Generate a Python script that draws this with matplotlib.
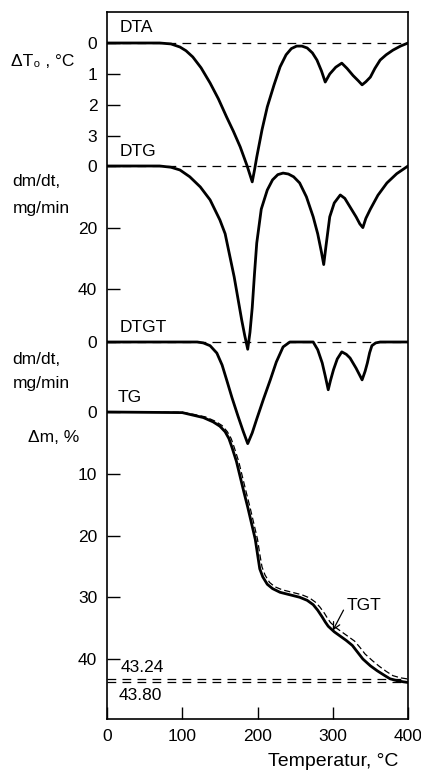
import matplotlib
matplotlib.use('Agg')
import matplotlib.pyplot as plt

plt.rcParams['font.family'] = ['Liberation Sans', 'DejaVu Sans']

# --- data (temperature in degC) ---
dta_t = [0, 70, 85, 97, 105, 114, 125, 137, 148, 159, 168, 177, 186, 193, 196, 199,
         206, 213, 222, 230, 238, 245, 252, 259, 266, 273, 279, 285, 290, 296, 304,
         312, 319, 327, 334, 339, 344, 350, 356, 363, 371, 380, 390, 400]
dta_v = [0, 0, 0.03, 0.13, 0.25, 0.45, 0.8, 1.29, 1.8, 2.39, 2.85, 3.35, 3.95, 4.48, 4.1, 3.68,
         2.8, 2.06, 1.35, 0.77, 0.38, 0.18, 0.1, 0.1, 0.16, 0.32, 0.55, 0.9, 1.26, 1.0, 0.78,
         0.65, 0.82, 1.05, 1.22, 1.35, 1.25, 1.1, 0.82, 0.55, 0.38, 0.23, 0.1, 0]

dtg_t = [0, 70, 85, 97, 110, 124, 137, 150, 157, 163, 169, 174, 179, 183, 187, 190, 193,
         196, 199, 205, 213, 220, 227, 234, 241, 248, 256, 265, 274, 280, 285, 288, 291,
         296, 302, 310, 316, 323, 331, 336, 340, 344, 350, 360, 372, 385, 400]
dtg_v = [0, 0, 0.4, 1.3, 3.5, 6.8, 11, 17.5, 22, 29, 36, 43, 50, 55, 59.5, 54, 46,
         35, 25, 14, 7.8, 4.5, 2.8, 2.3, 2.6, 3.5, 5.5, 10, 16.5, 22, 28, 32, 26,
         16.5, 12, 9.4, 10.5, 13.3, 16.5, 18.8, 20, 17, 14, 9.5, 5.5, 2.5, 0]

dtgt_t = [0, 120, 128, 137, 146, 153, 159, 166, 174, 181, 187, 193, 199, 208, 217, 225,
          234, 243, 274, 280, 286, 290, 294, 297, 301, 306, 312, 318, 323, 331, 339,
          343, 346, 349, 352, 357, 363, 400]
dtgt_v = [0, 0, 0.3, 1.2, 3.6, 7.5, 12.3, 18, 24, 29, 33, 29.5, 25, 18.5, 12.3, 6.5,
          1.6, 0, 0, 2.5, 6.8, 11, 15.5, 12.5, 9, 5.5, 3.2, 4, 5.2, 8.5, 12.3,
          9.5, 6.8, 3.5, 1.2, 0.3, 0, 0]

tg_t = [0, 100, 114, 128, 141, 150, 157, 162, 166, 172, 177, 182, 187, 192, 197, 200,
        203, 207, 213, 220, 230, 243, 256, 266, 274, 280, 286, 290, 294, 302, 310, 318,
        326, 333, 340, 350, 359, 368, 376, 385, 394, 400]
tg_v = [0, 0.1, 0.5, 0.9, 1.6, 2.3, 3.2, 4.3, 5.7, 8, 10.5, 13, 15.4, 18, 20.6, 23,
        25.4, 26.7, 27.9, 28.6, 29.2, 29.6, 30.0, 30.5, 31.2, 32.1, 33.2, 34.0, 34.7, 35.6,
        36.3, 37.0, 37.8, 38.9, 40.0, 41.1, 41.9, 42.6, 43.2, 43.5, 43.7, 43.8]

tgt_t = [0, 100, 116, 131, 144, 153, 160, 165, 169, 175, 180, 185, 190, 195, 200, 203,
         206, 210, 216, 223, 233, 246, 259, 269, 277, 283, 289, 293, 297, 305, 313, 321,
         329, 336, 343, 353, 362, 371, 380, 390, 400]
tgt_v = [0, 0.05, 0.4, 0.8, 1.5, 2.2, 3.2, 4.3, 5.7, 8, 10.5, 13, 15.4, 18, 20.6, 23,
         25.1, 26.4, 27.6, 28.3, 28.8, 29.2, 29.6, 30.1, 30.8, 31.6, 32.6, 33.4, 34.1, 35.0,
         35.7, 36.4, 37.1, 38.1, 39.2, 40.3, 41.2, 42.0, 42.7, 43.05, 43.24]

tg_final = [43.24, 43.80]

x_ticks = [0, 100, 200, 300, 400]
dta_ticks = [0, 1, 2, 3]
dtg_ticks = [0, 20, 40]
dtgt_ticks = [0]
tg_ticks = [0, 10, 20, 30, 40]

# --- layout (pixels of the 421x770 picture) ---
W, H = 421, 770
FL, FR, FT, FB = 107, 408, 12, 719

fig = plt.figure(figsize=(W / 100, H / 100), dpi=100)
rect = [FL / W, 1 - FB / H, (FR - FL) / W, (FB - FT) / H]


def px(x, y):
    return x / W, 1 - y / H


main = fig.add_axes(rect)
main.set_xlim(0, 400)
main.set_ylim(0, 1)
main.set_yticks([])
main.set_xticks(x_ticks)
main.tick_params(axis='x', direction='in', length=9, width=1, pad=7, labelsize=12.5)
for s in main.spines.values():
    s.set_linewidth(1.2)


def overlay(zero_px, px_per_unit, ticks):
    ax = fig.add_axes(rect, sharex=main)
    ax.patch.set_visible(False)
    for s in ax.spines.values():
        s.set_visible(False)
    ax.set_ylim((FB - zero_px) / px_per_unit, (FT - zero_px) / px_per_unit)
    ax.set_yticks(ticks)
    ax.set_yticklabels([str(t) for t in ticks])
    ax.tick_params(axis='y', direction='in', length=9, width=1, pad=7, labelsize=12.5)
    ax.tick_params(axis='x', bottom=False, labelbottom=False)
    return ax


dash = dict(color='black', lw=0.9, dashes=(7, 5))
curve = dict(color='black', lw=2.0, solid_capstyle='round', solid_joinstyle='round')

ax_dta = overlay(43, 31.0, dta_ticks)
ax_dta.axhline(0, **dash)
ax_dta.plot(dta_t, dta_v, **curve)

ax_dtg = overlay(166, 3.08, dtg_ticks)
ax_dtg.axhline(0, **dash)
ax_dtg.plot(dtg_t, dtg_v, **curve)

ax_dtgt = overlay(342, 3.08, dtgt_ticks)
ax_dtgt.axhline(0, **dash)
ax_dtgt.plot(dtgt_t, dtgt_v, **curve)

ax_tg = overlay(412, 6.175, tg_ticks)
for v in tg_final:
    ax_tg.axhline(v, **dash)
ax_tg.plot(tgt_t, tgt_v, color='black', lw=0.9, dashes=(5, 2.5))
ax_tg.plot(tg_t, tg_v, **curve)
ax_tg.annotate('TGT', xy=(300, 35.4), xytext=(318, 31.3), fontsize=12.5,
               va='center', ha='left',
               arrowprops=dict(arrowstyle='->', color='black', lw=0.9,
                               shrinkA=0, shrinkB=0, relpos=(0.05, 0.75)))

# curve names and value labels
fs = 12.5
fig.text(*px(120, 28), 'DTA', fontsize=fs, va='center')
fig.text(*px(120, 151), 'DTG', fontsize=fs, va='center')
fig.text(*px(120, 328), 'DTGT', fontsize=fs, va='center')
fig.text(*px(118, 398), 'TG', fontsize=fs, va='center')
fig.text(*px(121, 667), '43.24', fontsize=fs, va='center')
fig.text(*px(119, 696), '43.80', fontsize=fs, va='center')

# axis titles on the left
fig.text(*px(43, 62), 'ΔT₀ , °C', fontsize=fs, va='center', ha='center')
fig.text(*px(36, 182), 'dm/dt,', fontsize=fs, va='center', ha='center')
fig.text(*px(41, 208), 'mg/min', fontsize=fs, va='center', ha='center')
fig.text(*px(36, 360), 'dm/dt,', fontsize=fs, va='center', ha='center')
fig.text(*px(41, 384), 'mg/min', fontsize=fs, va='center', ha='center')
fig.text(*px(54, 438), 'Δm, %', fontsize=fs, va='center', ha='center')

fig.text(*px(398, 762), 'Temperatur, °C', fontsize=14, va='center', ha='right')

fig.savefig('out.png', dpi=100)
